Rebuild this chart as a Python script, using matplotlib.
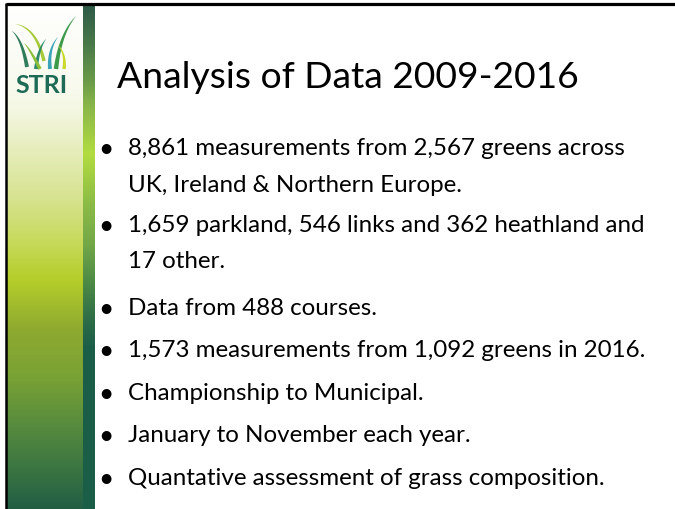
import numpy as np
import matplotlib
matplotlib.use("Agg")
import matplotlib.pyplot as plt
from matplotlib.colors import to_rgb
from matplotlib.patches import Polygon

plt.rcParams["font.family"] = ["Lato", "DejaVu Sans"]

W, H = 675, 510

title = "Analysis of Data 2009-2016"
bullets = [
    ["8,861 measurements from 2,567 greens across", "UK, Ireland & Northern Europe."],
    ["1,659 parkland, 546 links and 362 heathland and", "17 other."],
    ["Data from 488 courses."],
    ["1,573 measurements from 1,092 greens in 2016."],
    ["Championship to Municipal."],
    ["January to November each year."],
    ["Quantative assessment of grass composition."],
]
# baselines of each text line (pixels from top)
baselines = [[155, 192], [232, 268], [315], [357], [400], [442], [485]]

# gradient stops for the left panel and the thin bar next to it
panel_stops = [(0, "#ffffff"), (90, "#f8faee"), (110, "#f4f7e2"), (150, "#e6edbc"),
               (200, "#d6e38e"), (240, "#c8da5e"), (280, "#b5ce2a"), (330, "#8eaa30"),
               (380, "#78a135"), (430, "#54893e"), (470, "#3a7442"), (510, "#215e45")]
bar_stops = [(0, "#2e5a48"), (40, "#4a7a4a"), (80, "#6e9e48"), (100, "#88b54a"),
             (150, "#b2dc40"), (200, "#8cbc46"), (240, "#74a848"), (280, "#4d8a45"),
             (320, "#2c6c48"), (345, "#1c5e48"), (510, "#1a5e48")]


def gradient(stops):
    ys = np.arange(H)
    pos = [s[0] for s in stops]
    cols = np.array([to_rgb(s[1]) for s in stops])
    img = np.stack([np.interp(ys, pos, cols[:, k]) for k in range(3)], axis=1)
    return img[:, None, :]


def blade(ax, p0, p1, p2, w, color):
    t = np.linspace(0, 1, 40)[:, None]
    p0, p1, p2 = np.array(p0), np.array(p1), np.array(p2)
    pts = (1 - t) ** 2 * p0 + 2 * (1 - t) * t * p1 + t ** 2 * p2
    d = 2 * (1 - t) * (p1 - p0) + 2 * t * (p2 - p1)
    n = np.stack([-d[:, 1], d[:, 0]], axis=1)
    n = n / np.linalg.norm(n, axis=1)[:, None]
    half = (w / 2) * (1 - t[:, 0])[:, None] ** 0.8
    poly = np.vstack([pts + n * half, (pts - n * half)[::-1]])
    ax.add_patch(Polygon(poly, closed=True, facecolor=color, edgecolor="none", zorder=5))


fig = plt.figure(figsize=(W / 100, H / 100), dpi=100)
ax = fig.add_axes([0, 0, 1, 1])

ax.imshow(gradient(panel_stops), extent=[7, 83, H, 0], aspect="auto", zorder=1)
ax.imshow(gradient(bar_stops), extent=[83, 95, H, 6], aspect="auto", zorder=1)
ax.set_xlim(0, W)
ax.set_ylim(H, 0)
ax.axis("off")

# frame lines
ax.plot([5.5, W], [4.5, 4.5], color="black", lw=2.3, solid_capstyle="butt", zorder=6)
ax.plot([6, 6], [3.5, H], color="black", lw=1.8, solid_capstyle="butt", zorder=6)

# logo blades
blade(ax, (27, 68), (22, 40), (12, 32), 4, "#2f7d5a")
blade(ax, (44, 62), (36, 28), (15, 25), 3.5, "#a6c93a")
blade(ax, (36, 70), (38, 50), (46, 40), 4, "#2e8a6a")
blade(ax, (40, 70), (30, 50), (24, 44), 3.5, "#8fbf3a")
blade(ax, (50, 70), (48, 50), (58, 38), 4, "#3aa3b8")
blade(ax, (56, 70), (60, 35), (76, 17), 4.5, "#3d9a4a")
blade(ax, (64, 70), (66, 55), (58, 46), 3.5, "#c9d92a")
ax.text(42, 93, "STRI", color="#1d6a56", fontsize=18, fontweight="bold",
        ha="center", va="baseline", zorder=6)

# title and bullets
ax.text(117, 88, title, fontsize=26.8, color="black", ha="left", va="baseline")
for lines, ys in zip(bullets, baselines):
    ax.text(106, ys[0] + 2, "\u2022", fontsize=19, color="black", ha="center", va="baseline")
    for line, y in zip(lines, ys):
        ax.text(128, y, line, fontsize=17.4, color="black", ha="left", va="baseline")

fig.savefig("out.png", dpi=100, facecolor="white")
